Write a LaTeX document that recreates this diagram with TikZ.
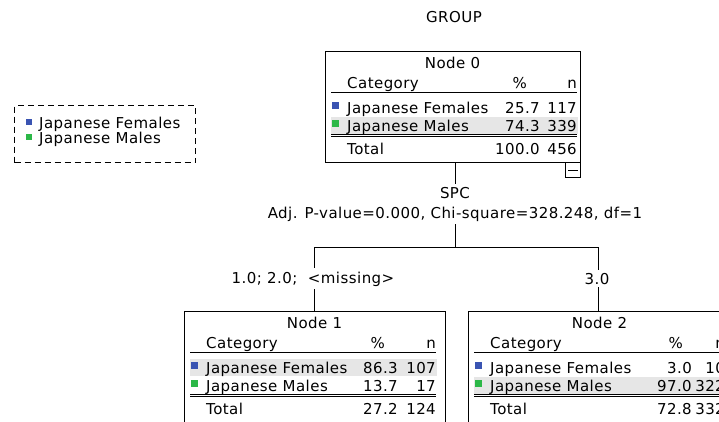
\documentclass[tikz,border=0pt]{standalone}
\usepackage{fontspec}
\setmainfont{DejaVu Sans}[LetterSpace=3]
\definecolor{catblue}{RGB}{58,84,178}
\definecolor{catgreen}{RGB}{44,184,72}
\definecolor{rowgrey}{RGB}{230,230,230}

\tikzset{
  txt/.style={inner sep=0pt, font=\fontsize{15}{18}\selectfont, anchor=base west},
  rtxt/.style={txt, anchor=base east},
  ctxt/.style={txt, anchor=base},
  lbl/.style={ctxt, inner xsep=2pt, inner ysep=3pt, fill=white},
  nodebox/.style={draw, line width=1pt, inner sep=0pt, anchor=north west, minimum height=111pt},
  rule/.style={line width=1pt},
  conn/.style={line width=1pt},
}

% one category table: name, title, top of the grey row,
% female %, female n, male %, male n, total %, total n
% column positions come from \boxW, \pctR, \valR, \nR
\newcommand{\cattable}[9]{%
  \node[nodebox, minimum width=\boxW pt] (#1) at (0,0) {};
  \fill[rowgrey] (6,#3) rectangle (\nR+1,#3+17);
  \node[ctxt] (#1-title) at (\boxW/2,17.5) {#2};
  \node[txt]  (#1-cat)  at (22,37) {Category};
  \node[rtxt] (#1-pcth) at (\pctR,37) {\%};
  \node[rtxt] (#1-nh)   at (\nR,37) {n};
  \draw[rule] (6,41.5) -- (\nR,41.5);
  \fill[catblue]  (7,51) rectangle (14,58);
  \node[txt]  (#1-f)    at (22,62) {Japanese Females};
  \node[rtxt] (#1-fp)   at (\valR,62) {#4};
  \node[rtxt] (#1-fn)   at (\nR,62) {#5};
  \fill[catgreen] (7,69) rectangle (14,76);
  \node[txt]  (#1-m)    at (22,80) {Japanese Males};
  \node[rtxt] (#1-mp)   at (\valR,80) {#6};
  \node[rtxt] (#1-mn)   at (\nR,80) {#7};
  \draw[rule] (6,83.5) -- (\nR,83.5);
  \draw[rule] (6,85.5) -- (\nR,85.5);
  \node[txt]  (#1-t)    at (22,103) {Total};
  \node[rtxt] (#1-tp)   at (\valR,103) {#8};
  \node[rtxt] (#1-tn)   at (\nR,103) {#9};
}

\begin{document}
\begin{tikzpicture}[x=1pt,y=-1pt]
\clip (0,0) rectangle (719,421);
\fill[white] (0,0) rectangle (719,421);

% dependent variable
\node[ctxt] (group) at (454,22) {GROUP};

% legend
\node[draw, line width=1pt, dash pattern=on 6pt off 4pt, inner sep=0pt,
      anchor=north west, minimum width=181pt, minimum height=57pt] (legend) at (14,105) {};
\fill[catblue]  (26,119) rectangle (32,125);
\node[txt] (leg-f) at (39,128) {Japanese Females};
\fill[catgreen] (26,134) rectangle (32,140);
\node[txt] (leg-m) at (39,143) {Japanese Males};

% root node
\begin{scope}[shift={(325,51)}]
  \def\boxW{255}\def\pctR{202}\def\valR{215}\def\nR{252}
  \cattable{n0}{Node 0}{66}{25.7}{117}{74.3}{339}{100.0}{456}
  \node[draw, line width=1pt, anchor=north west, minimum width=15pt,
        minimum height=15pt, inner sep=0pt] (n0-toggle) at (240,111) {};
  \draw[rule, shorten <=3pt, shorten >=3pt] (n0-toggle.west) -- (n0-toggle.east);
\end{scope}

% child nodes
\begin{scope}[shift={(184,311)}]
  \def\boxW{261}\def\pctR{201}\def\valR{214}\def\nR{252}
  \cattable{n1}{Node 1}{48}{86.3}{107}{13.7}{17}{27.2}{124}
\end{scope}
\begin{scope}[shift={(468,311)}]
  \def\boxW{263}\def\pctR{215}\def\valR{224}\def\nR{257}
  \cattable{n2}{Node 2}{66}{3.0}{10}{97.0}{322}{72.8}{332}
\end{scope}

% split variable and test
\node[ctxt, inner ysep=3pt] (spc) at (455,198) {SPC};
\node[ctxt, inner ysep=3pt] (stat) at (455,218) {Adj. P-value=0.000, Chi-square=328.248, df=1};
\coordinate (split) at (455,247);
\coordinate (lsplit) at (314,247);
\coordinate (rsplit) at (598,247);

% branch labels
\node[lbl] (lab1) at (313,283) {1.0; 2.0;\ \ <missing>};
\node[lbl] (lab2) at (597,284) {3.0};

% connectors
\draw[conn] (spc.north |- n0.south) -- (spc.north);
\draw[conn] (stat.south) -- (split);
\draw[conn] (lsplit) -- (rsplit);
\draw[conn] (lsplit) -- (lsplit |- lab1.north);
\draw[conn] (lsplit |- lab1.south) -- (lsplit |- n1.north);
\draw[conn] (rsplit) -- (rsplit |- lab2.north);
\draw[conn] (rsplit |- lab2.south) -- (rsplit |- n2.north);
\end{tikzpicture}
\end{document}
